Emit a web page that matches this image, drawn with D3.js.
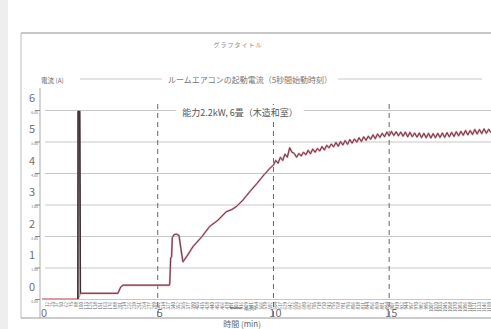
<!DOCTYPE html>
<html>
<head>
<meta charset="UTF-8">
<title>ルームエアコンの起動電流</title>
<script src="https://cdn.jsdelivr.net/npm/d3@7"></script>
<style>
  body { margin: 0; background: #fff; }
  svg { display: block; }
  text { font-family: "Noto Sans CJK JP", "Noto Sans", sans-serif; }
</style>
</head>
<body>
<div id="chart"></div>
<script>

// starting current of a room air conditioner, time in minutes, current in amperes
var timeMin = [
  0, 1.55, 1.56, 1.63, 1.66, 3.28, 3.4, 3.5, 5.5, 5.52, 5.56, 5.6, 5.63, 5.7, 5.8, 5.92, 6.0, 6.09,
  6.3, 6.52, 6.9, 7.24, 7.6, 7.96, 8.2, 8.39, 8.68, 8.97, 9.3, 9.6, 9.85,
  10.0, 10.1, 10.2, 10.3, 10.4, 10.5, 10.6, 10.7, 10.8, 10.9,
  11.0, 11.1, 11.2, 11.3, 11.4, 11.5, 11.6, 11.7, 11.8, 11.9,
  12.0, 12.1, 12.2, 12.3, 12.4, 12.5, 12.6, 12.7, 12.8, 12.9,
  13.0, 13.1, 13.2, 13.3, 13.4, 13.5, 13.6, 13.7, 13.8, 13.9,
  14.0, 14.1, 14.2, 14.3, 14.4, 14.5, 14.6, 14.7, 14.8, 14.9,
  15.0, 15.1, 15.2, 15.3, 15.4, 15.5, 15.6, 15.7, 15.8, 15.9,
  16.0, 16.1, 16.2, 16.3, 16.4, 16.5, 16.6, 16.7, 16.8, 16.9,
  17.0, 17.1, 17.2, 17.3, 17.4, 17.5, 17.6, 17.7, 17.8, 17.9,
  18.0, 18.1, 18.2, 18.3, 18.4, 18.5, 18.6, 18.7, 18.8, 18.9,
  19.0, 19.1, 19.2, 19.3, 19.4
];
var currentA = [
  0, 0, 5.95, 5.95, 0.18, 0.18, 0.38, 0.44, 0.44, 0.5, 1.3, 1.34, 1.95, 2.04, 2.06, 2.02, 1.6, 1.18,
  1.4, 1.66, 1.97, 2.3, 2.5, 2.77, 2.84, 2.93, 3.14, 3.4, 3.68, 3.95, 4.15,
  4.25, 4.40, 4.31, 4.50, 4.40, 4.60, 4.50, 4.80, 4.66, 4.62,
  4.50, 4.62, 4.54, 4.66, 4.58, 4.72, 4.61, 4.76, 4.66, 4.78,
  4.70, 4.84, 4.73, 4.88, 4.80, 4.92, 4.83, 4.97, 4.85, 5.00,
  4.89, 5.03, 4.91, 5.06, 4.95, 5.08, 4.98, 5.12, 5.00, 5.15,
  5.04, 5.17, 5.07, 5.21, 5.09, 5.24, 5.13, 5.26, 5.15, 5.30,
  5.18, 5.32, 5.19, 5.31, 5.18, 5.30, 5.17, 5.30, 5.15, 5.29,
  5.15, 5.27, 5.14, 5.27, 5.12, 5.26, 5.12, 5.26, 5.11, 5.25,
  5.12, 5.26, 5.13, 5.27, 5.13, 5.28, 5.15, 5.29, 5.16, 5.31,
  5.18, 5.32, 5.20, 5.35, 5.21, 5.35, 5.22, 5.38, 5.24, 5.38,
  5.25, 5.40, 5.26, 5.39, 5.28
];

var yTicks = [0, 1, 2, 3, 4, 5, 6];
var xMajorTicks = [0, 5, 10, 15];
var xDashed = [5, 10, 15];

var chartTitle = "グラフタイトル";
var mainTitle = "ルームエアコンの起動電流（5秒間始動時刻）";
var subTitle = "能力2.2kW, 6畳（木造和室）";
var yTitle = "電流 (A)";
var xTitle = "時間 (min)";
var seriesName = "系列1";

var W = 491, H = 329;

var svg = d3.select("#chart").append("svg")
  .attr("width", W)
  .attr("height", H);

// scales
var x = d3.scaleLinear().domain([0, 19.4]).range([42, 491]);
var y = d3.scaleLinear().domain([0, 6]).range([299, 110]);

// faint scan shading on the left edge
svg.append("rect").attr("x", 0).attr("y", 0).attr("width", 8).attr("height", H).attr("fill", "#eeeeee");

// chart frame
svg.append("line").attr("x1", 21).attr("x2", W).attr("y1", 33).attr("y2", 33)
  .attr("stroke", "#b5b5b5").attr("stroke-width", 1.5);
svg.append("line").attr("x1", 21).attr("x2", 21).attr("y1", 33).attr("y2", 318)
  .attr("stroke", "#bbb").attr("stroke-width", 1);
svg.append("line").attr("x1", 21).attr("x2", W).attr("y1", 318).attr("y2", 318)
  .attr("stroke", "#999").attr("stroke-width", 1);

svg.append("text").attr("x", 238).attr("y", 47)
  .attr("text-anchor", "middle").attr("font-size", 6).attr("fill", "#888")
  .attr("letter-spacing", 1)
  .text(chartTitle);

// horizontal gridlines
svg.append("g")
  .attr("transform", "translate(45,0)")
  .call(d3.axisLeft(y).tickValues(yTicks).tickSize(-(W - 45)).tickFormat(""))
  .call(function (g) {
    g.select(".domain").remove();
    g.selectAll(".tick line").attr("stroke", "#c8c8c8").attr("stroke-width", 1);
  });

// line above title
svg.append("line").attr("x1", 80).attr("x2", 482).attr("y1", 79).attr("y2", 79)
  .attr("stroke", "#c8c8c8").attr("stroke-width", 1);

// dashed verticals at 5, 10, 15 min
svg.selectAll(".vdash").data(xDashed).enter().append("line")
  .attr("class", "vdash")
  .attr("x1", function (d) { return x(d); })
  .attr("x2", function (d) { return x(d); })
  .attr("y1", 104).attr("y2", 320)
  .attr("stroke", "#666").attr("stroke-width", 1)
  .attr("stroke-dasharray", "5,4");

// titles with white backing so lines break around them
function labelBox(tx, ty, str, size, color) {
  var t = svg.append("text").attr("x", tx).attr("y", ty)
    .attr("text-anchor", "middle").attr("font-size", size).attr("fill", color)
    .text(str);
  var b = t.node().getBBox();
  svg.insert("rect", function () { return t.node(); })
    .attr("x", b.x - 6).attr("y", b.y - 1).attr("width", b.width + 12).attr("height", b.height + 2)
    .attr("fill", "#fff");
  return t;
}
labelBox(250, 83, mainTitle, 8, "#777");
labelBox(240, 116, subTitle, 9, "#555");

svg.append("text").attr("x", 41).attr("y", 83)
  .attr("font-size", 6.5).attr("fill", "#666").text(yTitle);

// y axis line
svg.append("line").attr("x1", 40).attr("x2", 40).attr("y1", 88).attr("y2", 318)
  .attr("stroke", "#aaa").attr("stroke-width", 1);

// y tick labels: large digit plus the small Excel value label
var yAx = svg.append("g").attr("transform", "translate(40,0)")
  .call(d3.axisLeft(y).tickValues(yTicks).tickSize(5).tickFormat(d3.format(".2f")));
yAx.select(".domain").remove();
yAx.selectAll(".tick line").attr("stroke", "#888");
yAx.selectAll(".tick text").attr("font-size", 3.5).attr("fill", "#777").attr("x", -2).attr("dy", "0.9em");
yAx.selectAll(".tick").append("text")
  .attr("x", -8).attr("y", -9)
  .attr("text-anchor", "middle")
  .attr("font-size", 11).attr("fill", "#707070")
  .attr("font-family", "DejaVu Sans, sans-serif")
  .text(function (d) { return d; });

// tiny rotated category labels along the bottom
var catTicks = d3.range(0.2, 19.41, 0.21);
var catAx = svg.append("g").attr("transform", "translate(0,299)")
  .call(d3.axisBottom(x).tickValues(catTicks).tickSize(0)
    .tickFormat(function (d) { return Math.round(d * 60); }));
catAx.select(".domain").remove();
catAx.selectAll(".tick text")
  .attr("font-size", 4.5).attr("fill", "#666")
  .attr("transform", "rotate(-90)")
  .attr("text-anchor", "end")
  .attr("x", -3).attr("y", 0).attr("dy", "0.35em");

// major x labels
svg.selectAll(".xlab").data(xMajorTicks).enter().append("text")
  .attr("class", "xlab")
  .attr("x", function (d) { return x(d) + 2; })
  .attr("y", 317)
  .attr("text-anchor", "middle")
  .attr("font-size", 11).attr("fill", "#707070")
  .attr("font-family", "DejaVu Sans, sans-serif")
  .text(function (d) { return d; });

// legend
svg.append("line").attr("x1", 230).attr("x2", 242).attr("y1", 308).attr("y2", 308)
  .attr("stroke", "#555").attr("stroke-width", 1);
svg.append("text").attr("x", 244).attr("y", 310)
  .attr("font-size", 5).attr("fill", "#777").text(seriesName);

svg.append("text").attr("x", 242).attr("y", 327)
  .attr("text-anchor", "middle").attr("font-size", 8).attr("fill", "#666")
  .text(xTitle);

// data line: pink halo under a dark maroon stroke
var pts = timeMin.map(function (t, i) { return [t, currentA[i]]; });
var line = d3.line()
  .x(function (d) { return x(d[0]); })
  .y(function (d) { return y(d[1]); });

svg.append("path").datum(pts.filter(function (d, i) { return i < 2 || i > 3; }))
  .attr("d", line)
  .attr("fill", "none")
  .attr("stroke", "#dc9aa6").attr("stroke-width", 2)
  .attr("stroke-linejoin", "round");

svg.append("path").datum(pts.filter(function (d) { return d[0] >= 1.55; }))
  .attr("d", line)
  .attr("fill", "none")
  .attr("stroke", "#6a3a4c").attr("stroke-width", 1)
  .attr("stroke-linejoin", "round");

// inrush spike drawn heavier and darker
svg.append("path").datum(pts.slice(1, 5))
  .attr("d", line)
  .attr("fill", "none")
  .attr("stroke", "#3d3036").attr("stroke-width", 1.5)
  .attr("stroke-linejoin", "miter");

</script>
</body>
</html>
